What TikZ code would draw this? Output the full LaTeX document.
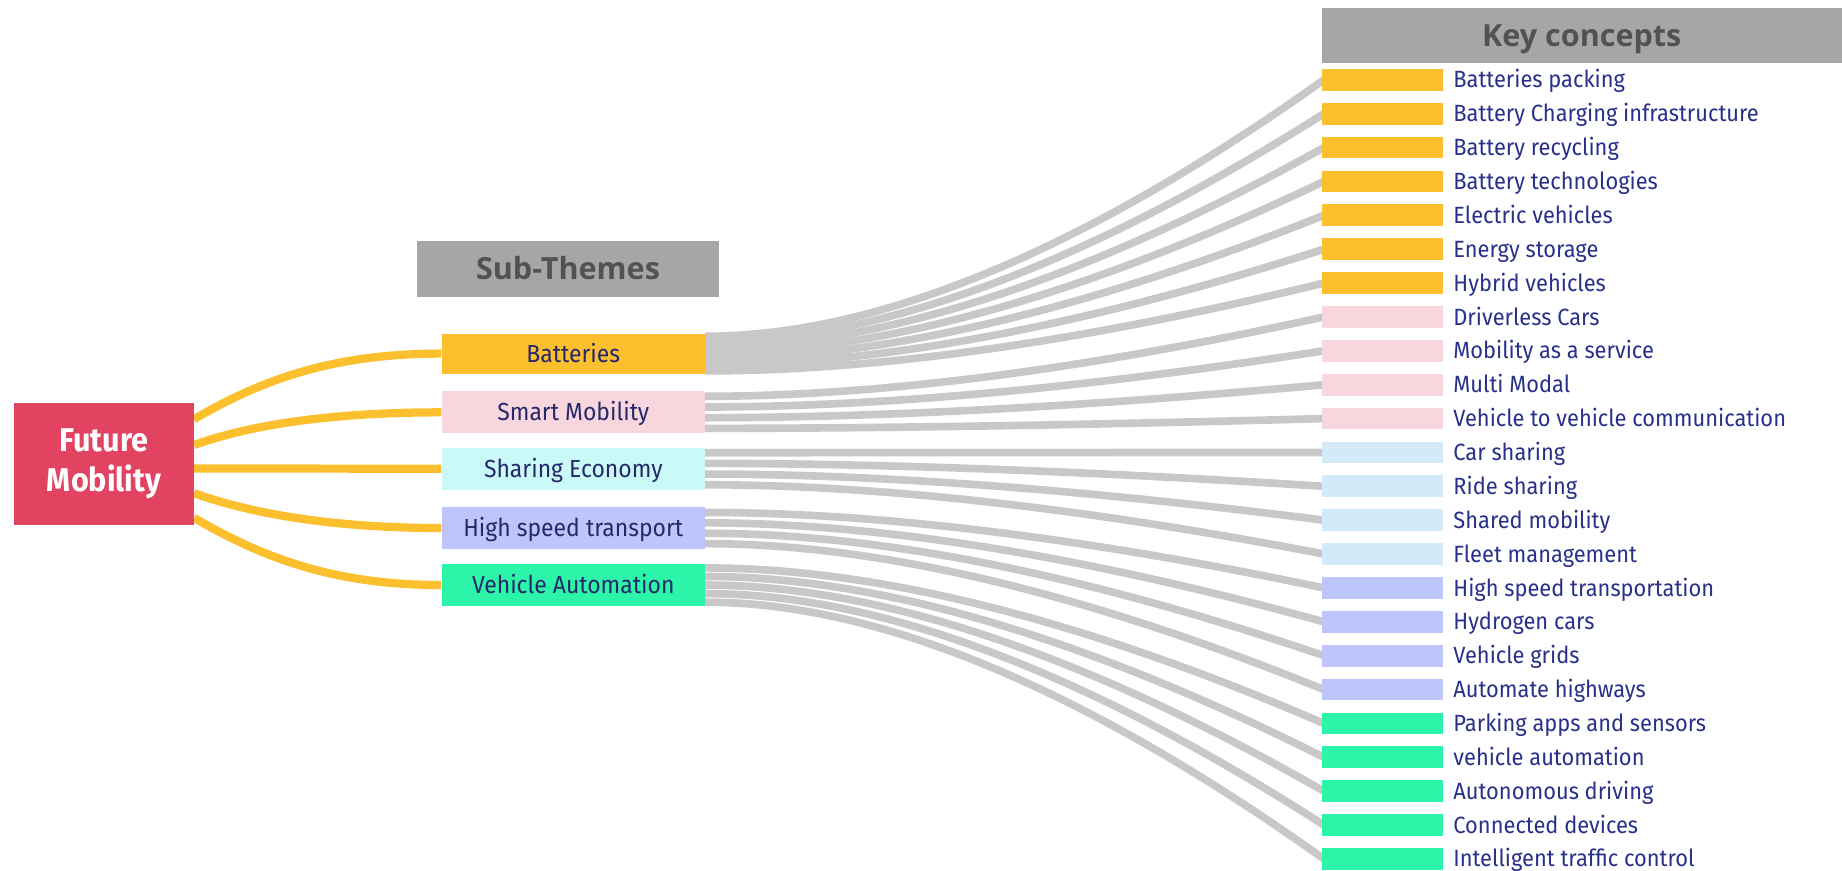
\documentclass[tikz,border=0pt]{standalone}
\usepackage{fontspec}
\usetikzlibrary{calc,backgrounds}
\newfontfamily\kcfont{Fira Sans}[FakeStretch=0.93]
\newfontfamily\hdrfont{Open Sans}
\definecolor{fmred}{HTML}{E24361}
\definecolor{gold}{HTML}{FCC02E}
\definecolor{pinkc}{HTML}{F8D6DE}
\definecolor{cyanc}{HTML}{C9FAF8}
\definecolor{skyc}{HTML}{D4EAF8}
\definecolor{lav}{HTML}{BDC6FA}
\definecolor{mint}{HTML}{2CF5A9}
\definecolor{bandgray}{HTML}{C8C8C8}
\definecolor{hdrgray}{HTML}{A6A6A6}
\definecolor{hdrtext}{HTML}{525252}
\definecolor{navy}{HTML}{28308A}
\definecolor{subtext}{HTML}{26286A}
\begin{document}
\begin{tikzpicture}[x=1pt,y=-1pt,
  fmbox/.style={fill=fmred, minimum width=153, minimum height=104, inner sep=0, text=white, align=center, font=\kcfont\bfseries\fontsize{28}{34}\selectfont},
  hdr/.style={fill=hdrgray, inner sep=0, text=hdrtext, font=\hdrfont\bfseries\fontsize{26}{30}\selectfont, text height=18.6pt, text depth=0pt},
  sub/.style={minimum width=224, inner sep=0, text=subtext, font=\kcfont\fontsize{21}{25}\selectfont, text height=14.5pt, text depth=0pt},
  kbar/.style={minimum width=103, minimum height=18.5, inner sep=0},
  ktext/.style={anchor=west, inner sep=0, text=navy, font=\kcfont\fontsize{20}{24}\selectfont, text height=13.8pt, text depth=0pt},
  band/.style={draw=bandgray, line width=6.5},
  yline/.style={draw=gold, line width=7}]
\useasboundingbox (0,0) rectangle (1568,741);
\clip (0,0) rectangle (1568,741);

% main nodes
\node[fmbox] (fm) at (88.5,395) {Future\\Mobility};
\node[hdr, minimum width=257, minimum height=48] (subhdr) at (483.5,229) {Sub-Themes};
\node[hdr, minimum width=443, minimum height=47] (keyhdr) at (1346.5,30.5) {Key concepts};

\node[sub, fill=gold,  minimum height=34] (bat) at (488,301)   {Batteries};
\node[sub, fill=pinkc, minimum height=36] (sm)  at (488,351)   {Smart Mobility};
\node[sub, fill=cyanc, minimum height=36] (se)  at (488,399)   {Sharing Economy};
\node[sub, fill=lav,   minimum height=35] (hs)  at (488,449.5) {High speed transport};
\node[sub, fill=mint,  minimum height=36] (va)  at (488,498)   {Vehicle Automation};

\foreach \t/\c [count=\i from 0] in {
  Batteries packing/gold, Battery Charging infrastructure/gold, Battery recycling/gold,
  Battery technologies/gold, Electric vehicles/gold, Energy storage/gold, Hybrid vehicles/gold,
  Driverless Cars/pinkc, Mobility as a service/pinkc, Multi Modal/pinkc,
  Vehicle to vehicle communication/pinkc,
  Car sharing/skyc, Ride sharing/skyc, Shared mobility/skyc, Fleet management/skyc,
  High speed transportation/lav, Hydrogen cars/lav, Vehicle grids/lav, Automate highways/lav,
  Parking apps and sensors/mint, vehicle automation/mint, Autonomous driving/mint,
  Connected devices/mint, Intelligent traffic control/mint} {
  \node[kbar, fill=\c] (k\i) at (1176.5,{68+\i*28.83}) {};
  \node[ktext] (t\i) at (1237,{68+\i*28.83}) {\t};
}

\begin{pgfonlayer}{background}
  \fill[white] (0,0) rectangle (1568,741);
  % gray bands from sub-themes to key concepts
  \foreach \src/\n/\first in {bat/7/0, sm/4/7, se/4/11, hs/4/15, va/5/19} {
    \foreach \k in {1,...,\n} {
      \pgfmathtruncatemacro\r{\first+\k-1}
      \pgfmathsetmacro\f{(\k-0.5)/\n}
      \coordinate (s) at ($(\src.north east)!\f!(\src.south east)$);
      \coordinate (q) at ($(s)+(220,0)$);
      \coordinate (e) at ($(k\r.west)+(2,0)$);
      \draw[band] (s) .. controls ($(s)!0.667!(q)$) and ($(e)!0.667!(q)$) .. (e);
    }
  }
  % yellow connectors from Future Mobility
  \coordinate (f1) at ($(fm.north east)+(0,14)$);
  \coordinate (f2) at ($(fm.north east)+(0,36)$);
  \coordinate (f3) at ($(fm.north east)+(0,56)$);
  \coordinate (f4) at ($(fm.north east)+(0,77)$);
  \coordinate (f5) at ($(fm.north east)+(0,98)$);
  \draw[yline] (f1) .. controls +(60,-35) and +(-90,0) .. (bat.west);
  \draw[yline] (f2) .. controls +(50,-18) and +(-90,0) .. (sm.west);
  \draw[yline] (f3) -- (se.west);
  \draw[yline] (f4) .. controls +(50,18) and +(-90,0) .. (hs.west);
  \draw[yline] (f5) .. controls +(60,35) and +(-90,0) .. (va.west);
\end{pgfonlayer}
\end{tikzpicture}
\end{document}
